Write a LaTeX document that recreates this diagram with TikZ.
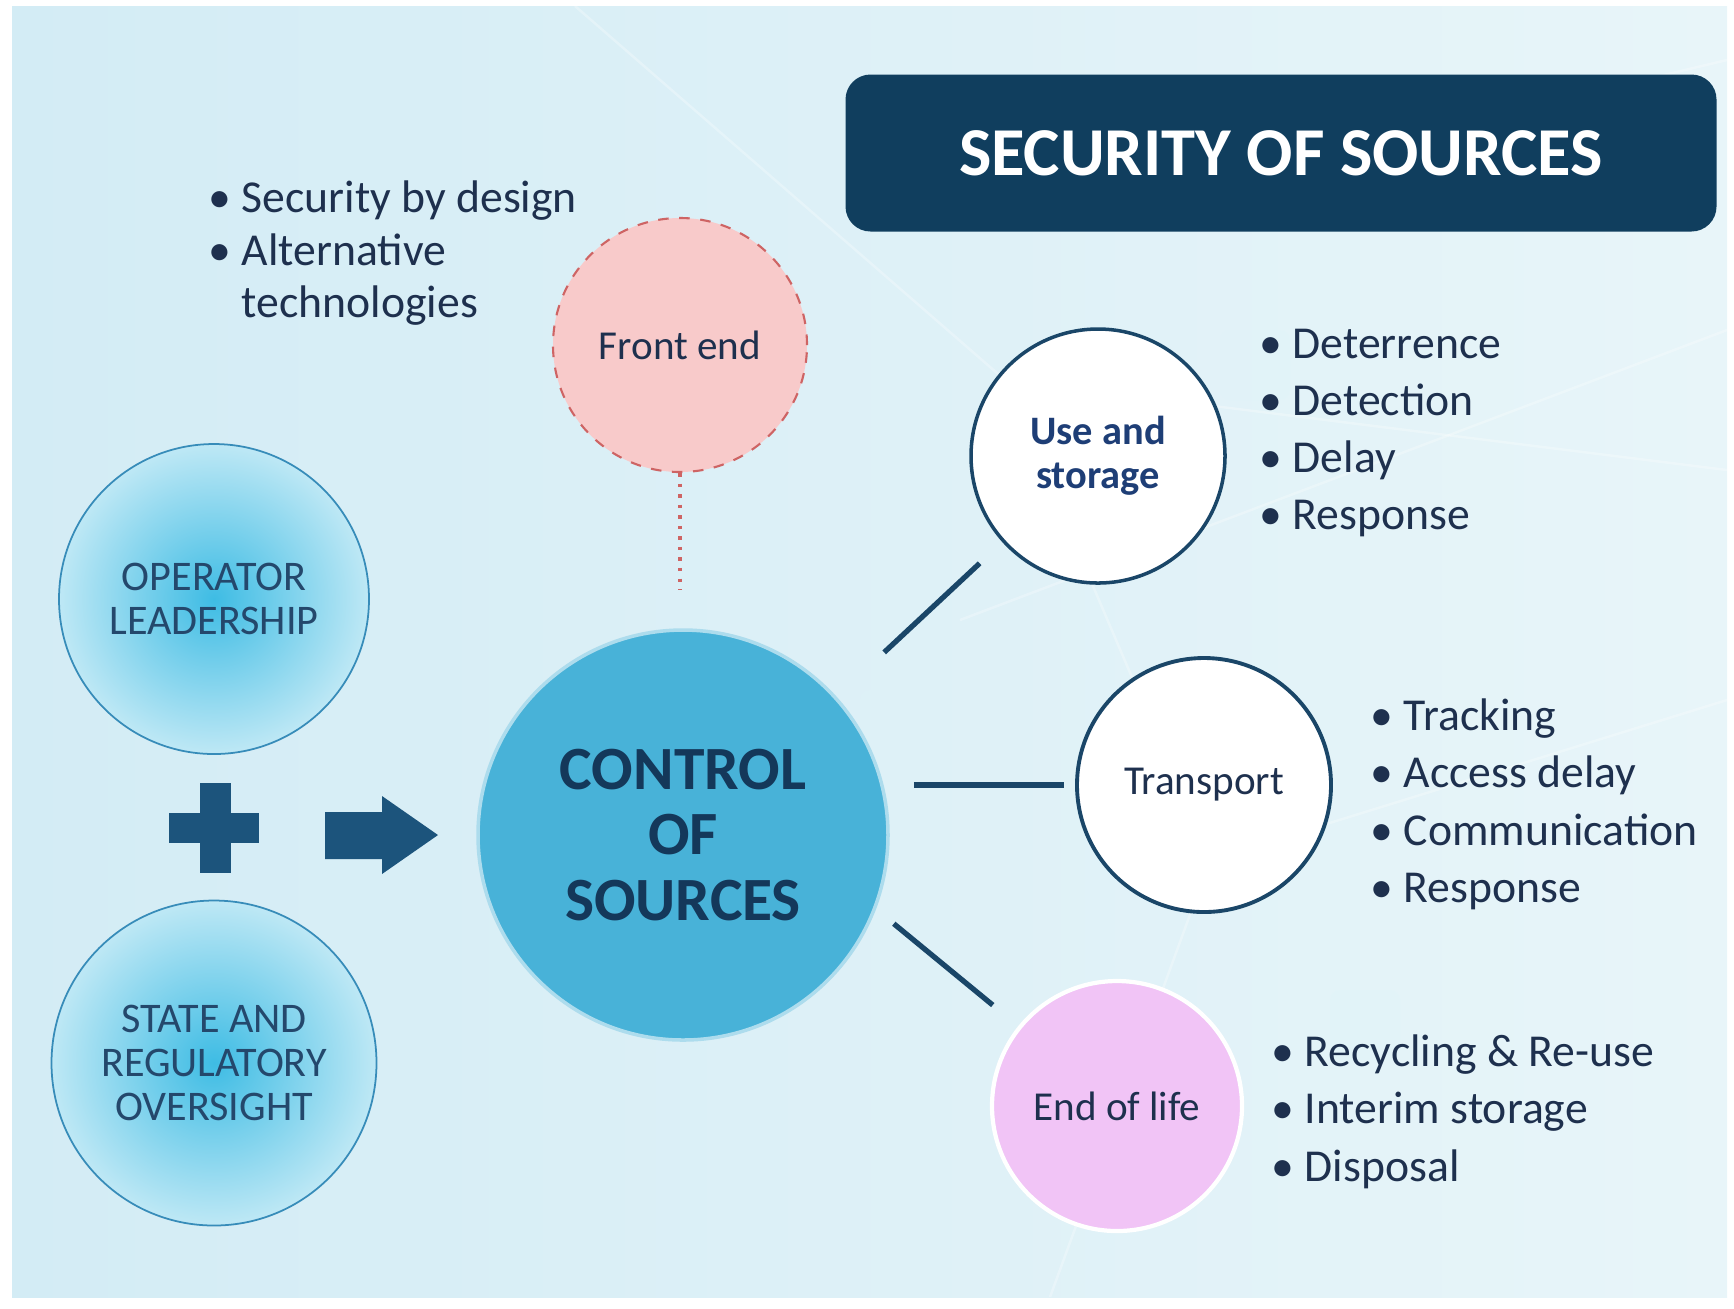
\documentclass[tikz,border=0pt]{standalone}
\usepackage{fontspec}
\setmainfont{Carlito}
\usetikzlibrary{positioning}

\definecolor{bgleft}{RGB}{211,236,245}
\definecolor{bgright}{RGB}{232,245,249}
\definecolor{navy}{RGB}{16,62,94}
\definecolor{ink}{RGB}{30,48,78}
\definecolor{ctrlblue}{RGB}{72,178,216}
\definecolor{ctrlink}{RGB}{20,56,90}
\definecolor{cyanmid}{RGB}{62,188,228}
\definecolor{cyanedge}{RGB}{190,232,245}
\definecolor{rimblue}{RGB}{55,140,185}
\definecolor{pillarink}{RGB}{36,72,108}
\definecolor{frontpink}{RGB}{248,202,202}
\definecolor{frontred}{RGB}{206,100,100}
\definecolor{eolpink}{RGB}{241,196,246}
\definecolor{linkblue}{RGB}{26,70,104}
\definecolor{usenavy}{RGB}{30,62,118}
\definecolor{markblue}{RGB}{28,84,124}

\tikzset{
    stage/.style={shape=circle, minimum size=25.4mm, inner sep=0pt, align=center,
        text=ink, font=\fontsize{11.7}{13}\selectfont},
    pillar/.style={shape=circle, draw=rimblue, line width=0.5pt, inner sep=0pt,
        inner color=cyanmid, outer color=cyanedge, align=center, text=pillarink,
        font=\fontsize{12}{12.3}\selectfont},
    link/.style={draw=linkblue, line width=1.5pt},
    bullets/.style={anchor=north west, inner sep=0pt, align=left, text=ink,
        font=\fontsize{13}{16.3}\selectfont},
    mesh/.style={draw=white, line width=0.7pt, opacity=0.28},
}

\begin{document}
\begin{tikzpicture}[x=0.1mm, y=-0.1mm]
    \useasboundingbox (0,0) rectangle (1734,1308);
    \fill[left color=bgleft, right color=bgright] (12,6) rectangle (1727,1297);

    % faint network in the background
    \draw[mesh] (575,6) -- (1005,380) -- (1727,470);
    \draw[mesh] (1005,380) -- (1210,860) -- (1727,700);
    \draw[mesh] (960,620) -- (1727,330);
    \draw[mesh] (1210,860) -- (1050,1297);
    \draw[mesh] (1390,140) -- (1727,60);
    \fill[white!50!cyanedge, opacity=0.3, rounded corners=1mm] (1220,330) rectangle (1290,400);
    \fill[white!50!cyanedge, opacity=0.3, rounded corners=1mm] (860,690) rectangle (930,760);
    \fill[white!50!cyanedge, opacity=0.3, rounded corners=1mm] (1330,990) rectangle (1400,1060);

    \node[shape=rectangle, rounded corners=2.5mm, fill=navy, text=white,
        minimum width=87.1mm, minimum height=15.7mm,
        font=\fontsize{19.5}{22}\selectfont\bfseries] (title) at (1281,153) {SECURITY OF SOURCES};

    % main hub and the four stages
    \node[shape=circle, minimum size=41mm, inner sep=0pt, fill=ctrlblue,
        draw=white!55!ctrlblue, line width=1pt, align=center, text=ctrlink,
        font=\fontsize{17.5}{18.6}\selectfont\bfseries] (ctrl) at (683,835) {CONTROL\\OF\\SOURCES};

    \node[stage, fill=frontpink, draw=frontred, dashed, line width=0.6pt] (front) at (680,345) {Front end};
    \node[stage, fill=white, draw=linkblue, line width=1pt, text=usenavy,
        font=\fontsize{11.5}{12.6}\selectfont\bfseries] (use) at (1098,456) {Use and\\storage};
    \node[stage, fill=white, draw=linkblue, line width=1.1pt] (transport) at (1204,785) {Transport};
    \node[stage, fill=eolpink, draw=white, line width=1.2pt, minimum size=25mm] (eol) at (1117,1106) {End of life};

    \path[draw=frontred, dotted, line width=1pt, shorten >=3.8mm] (front.south) -- (front.south |- ctrl.north);
    \path[link, shorten <=6.5mm, shorten >=3.1mm] (ctrl.42) edge (use.222);
    \path[link, shorten <=2.4mm, shorten >=1.1mm] (ctrl.east |- transport.west) edge (transport.west);
    \path[link, shorten <=2.3mm, shorten >=3.3mm] (ctrl.-21) edge (eol.141);

    % the two pillars on the left
    \node[pillar, minimum size=31mm] (operator) at (214,599) {OPERATOR\\LEADERSHIP};
    \node[pillar, minimum size=32.5mm, font=\fontsize{12}{12.6}\selectfont] (state) at (214,1063) {STATE AND\\REGULATORY\\OVERSIGHT};

    \fill[markblue] (200,783) rectangle (231,873);
    \fill[markblue] (169,813) rectangle (259,843);
    \fill[markblue] (325,812) -- (382,812) -- (382,796) -- (438,835)
        -- (382,874) -- (382,859) -- (325,859) -- cycle;

    % bullet lists
    \node[bullets, font=\fontsize{13}{15}\selectfont] (frontpts) at (208,180)
        {• Security by design\\• Alternative\\\phantom{• }technologies};
    \node[bullets] (usepts) at (1259,328)
        {• Deterrence\\• Detection\\• Delay\\• Response};
    \node[bullets] (transportpts) at (1370,698)
        {• Tracking\\• Access delay\\• Communication\\• Response};
    \node[bullets] (eolpts) at (1271,1034)
        {• Recycling \& Re-use\\• Interim storage\\• Disposal};
\end{tikzpicture}
\end{document}
